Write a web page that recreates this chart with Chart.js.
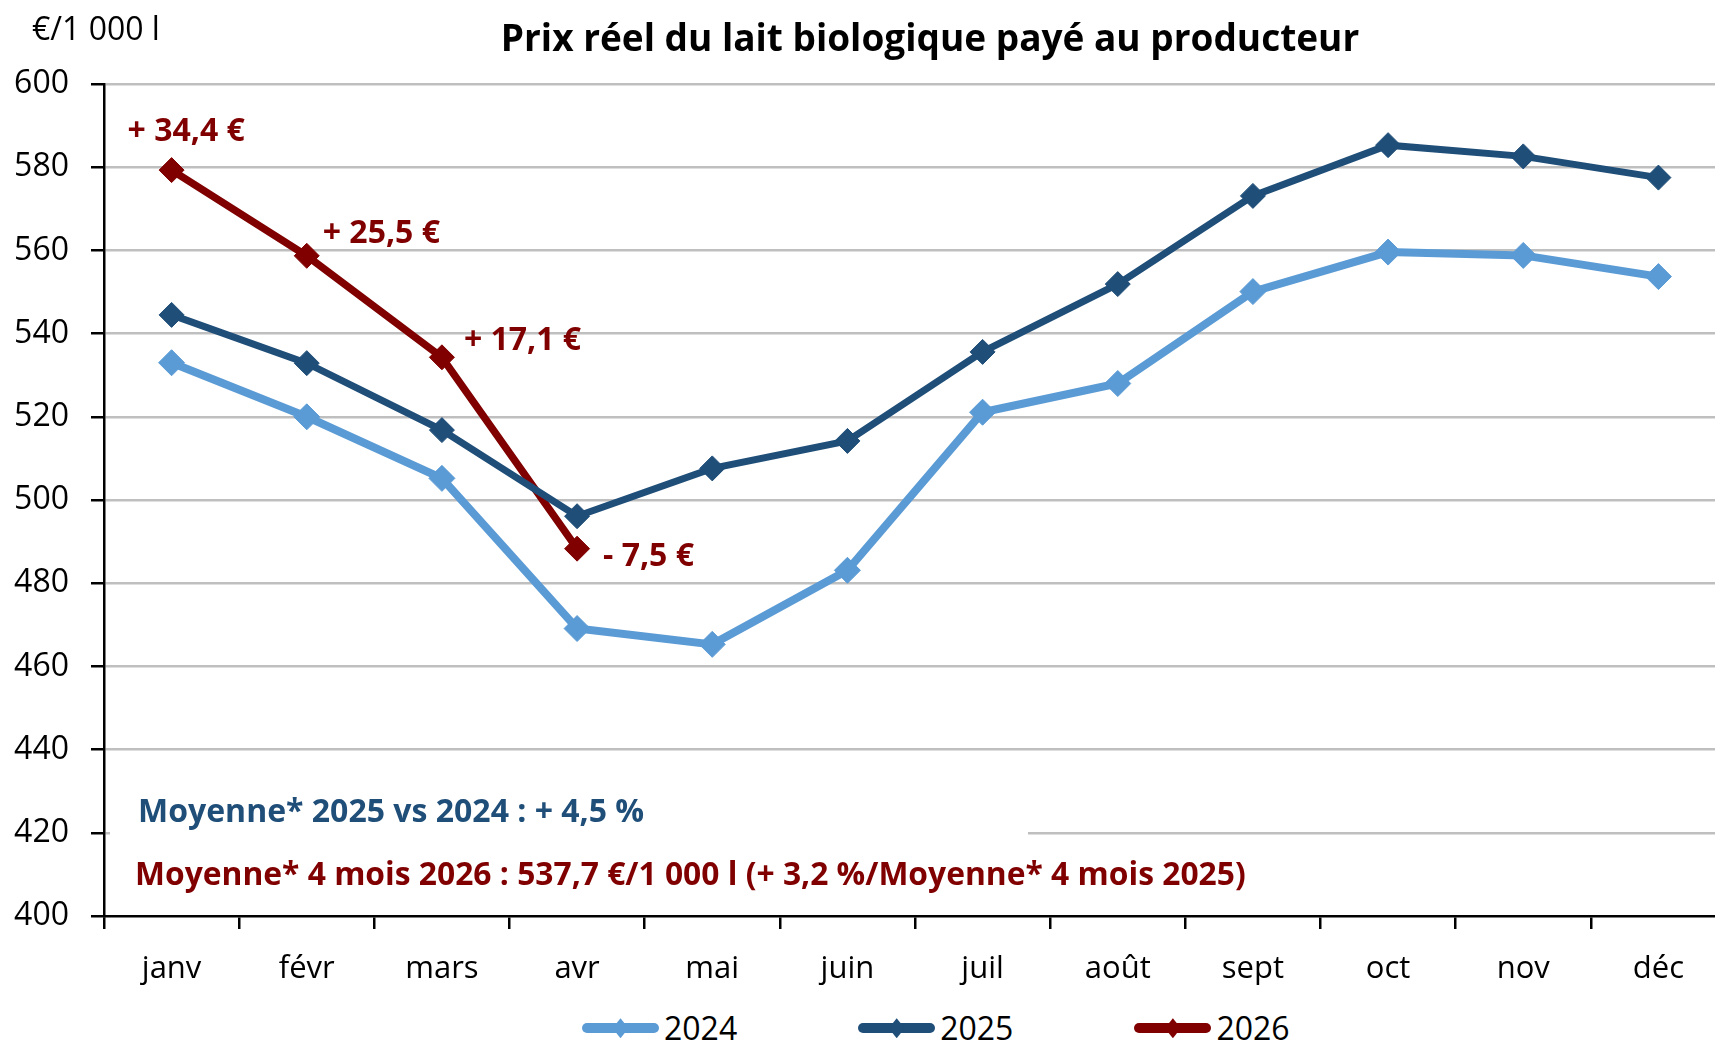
<!DOCTYPE html>
<html>
<head>
  <meta charset="UTF-8">
  <title>Prix réel du lait biologique payé au producteur</title>
  <script src="https://cdn.jsdelivr.net/npm/chart.js"></script>
  <style>
    body {
      margin: 0;
      background: #fff;
      overflow: hidden;
      font-family: 'Open Sans', sans-serif;
    }
    #chartContainer {
      position: relative;
      width: 1860px;
      height: 1000px;
    }
    #unit {
      position: absolute;
      left: 32px;
      top: 6px;
      font-size: 32px;
      color: #000;
    }
    #legend {
      position: absolute;
      left: 582px;
      top: 1009px;
      display: flex;
      gap: 121px;
      font-size: 32px;
      line-height: 1.2;
    }
    .item { display: flex; align-items: center; gap: 5px; }
    .swatch { position: relative; width: 77px; height: 22px; }
    .swatch .line { position: absolute; left: 0; right: 0; top: 6px; height: 10px; border-radius: 5px; }
    .swatch .dot {
      position: absolute; left: 30.5px; top: 1px; width: 16px; height: 20px;
      clip-path: polygon(50% 0, 100% 50%, 50% 100%, 0 50%);
    }
  </style>
</head>
<body>
  <div id="chartContainer">
    <canvas id="milkChart"></canvas>
    <div id="unit">€/1 000 l</div>
  </div>
  <div id="legend"></div>
  <script>
    const months = ['janv', 'févr', 'mars', 'avr', 'mai', 'juin', 'juil', 'août', 'sept', 'oct', 'nov', 'déc'];
    const prix2024 = [533, 520, 505.2, 469.1, 465.3, 483.1, 521.1, 528, 550.1, 559.6, 558.8, 553.7];
    const prix2025 = [544.5, 532.9, 516.8, 496.1, 507.6, 514.2, 535.6, 551.9, 573.1, 585.3, 582.6, 577.5];
    const prix2026 = [579.3, 558.7, 534.3, 488.3];
    const ecarts2026 = ['+ 34,4 €', '+ 25,5 €', '+ 17,1 €', '- 7,5 €'];
    const moyenneTextes = [
      'Moyenne* 2025 vs 2024 : + 4,5 %',
      'Moyenne* 4 mois 2026 : 537,7 €/1 000 l (+ 3,2 %/Moyenne* 4 mois 2025)'
    ];
    const yMin = 400;
    const yMax = 600;
    const yStep = 20;

    const BLUE_LIGHT = '#5B9BD5';
    const BLUE_DARK = '#1F4E79';
    const RED = '#800000';
    const FONT = "'Open Sans', sans-serif";

    Chart.defaults.font.family = FONT;
    Chart.defaults.color = '#000';

    // where the gap labels sit next to the 2026 points (px)
    const ecartOffsets = [[-44, -38], [16, -22], [22, -16], [26, 8]];

    const notesPlugin = {
      id: 'notes',
      beforeDatasetsDraw(chart) {
        // white box hiding the grid behind the averages
        const { ctx, chartArea, scales: { y } } = chart;
        const top = y.getPixelForValue(435.5);
        const bottom = y.getPixelForValue(402);
        ctx.save();
        ctx.fillStyle = '#fff';
        ctx.fillRect(chartArea.left + 6, top, 918, bottom - top);
        ctx.restore();
      },
      afterDatasetsDraw(chart) {
        const { ctx, chartArea, scales: { y } } = chart;
        ctx.save();
        ctx.textAlign = 'left';
        ctx.textBaseline = 'middle';
        ctx.font = 'bold 32px ' + FONT;

        ctx.fillStyle = BLUE_DARK;
        ctx.fillText(moyenneTextes[0], chartArea.left + 34, y.getPixelForValue(424.7));
        ctx.fillStyle = RED;
        ctx.font = 'bold 31.8px ' + FONT;
        ctx.fillText(moyenneTextes[1], chartArea.left + 31, y.getPixelForValue(409.6));

        ctx.font = 'bold 32px ' + FONT;
        const meta = chart.getDatasetMeta(2);
        ecarts2026.forEach((txt, i) => {
          const pt = meta.data[i];
          ctx.fillText(txt, pt.x + ecartOffsets[i][0], pt.y + ecartOffsets[i][1]);
        });
        ctx.restore();
      }
    };

    const ctx = document.getElementById('milkChart').getContext('2d');
    const chart = new Chart(ctx, {
      type: 'line',
      data: {
        labels: months,
        datasets: [
          {
            label: '2024', data: prix2024,
            borderColor: BLUE_LIGHT, backgroundColor: BLUE_LIGHT,
            borderWidth: 8, pointStyle: 'rectRot', pointRadius: 13, pointBorderWidth: 1
          },
          {
            label: '2025', data: prix2025,
            borderColor: BLUE_DARK, backgroundColor: BLUE_DARK,
            borderWidth: 7, pointStyle: 'rectRot', pointRadius: 12.5, pointBorderWidth: 1
          },
          {
            label: '2026', data: prix2026,
            borderColor: RED, backgroundColor: RED,
            borderWidth: 7.5, pointStyle: 'rectRot', pointRadius: 12.5, pointBorderWidth: 1
          }
        ]
      },
      options: {
        responsive: true,
        maintainAspectRatio: false,
        animation: false,
        layout: { padding: { left: 10, right: 10, top: 0, bottom: 0 } },
        plugins: {
          legend: { display: false },
          tooltip: { enabled: false },
          title: {
            display: true,
            text: 'Prix réel du lait biologique payé au producteur',
            font: { size: 37, weight: 'bold' },
            color: '#000',
            padding: { top: 18, bottom: 21.6 }
          }
        },
        scales: {
          x: {
            offset: true,
            grid: {
              display: true, offset: true, drawOnChartArea: false,
              tickLength: 13, lineWidth: 2.5, color: '#000'
            },
            border: { color: '#000', width: 2.5 },
            ticks: { font: { size: 31 }, padding: 22, maxRotation: 0 },
            afterFit: s => { s.height = 84; }
          },
          y: {
            min: yMin, max: yMax,
            ticks: { stepSize: yStep, font: { size: 32 }, padding: 22 },
            grid: {
              color: c => c.tick && c.tick.value === yMin ? 'rgba(0,0,0,0)' : '#BFBFBF',
              lineWidth: 2.5, tickColor: '#000', tickLength: 13
            },
            border: { color: '#000', width: 2.5 },
            afterFit: s => { s.width = 94; }
          },
          // empty axis on the right keeps the title centred like the original
          yRight: {
            type: 'linear', axis: 'y', position: 'right',
            grid: { display: false }, border: { display: false }, ticks: { display: false },
            afterFit: s => { s.width = 124; }
          }
        }
      },
      plugins: [notesPlugin]
    });

    // html legend: line + diamond like the original
    const legendEl = document.getElementById('legend');
    chart.data.datasets.forEach(ds => {
      const item = document.createElement('div');
      item.className = 'item';
      item.innerHTML = '<div class="swatch"><div class="line" style="background:' + ds.borderColor +
        '"></div><div class="dot" style="background:' + ds.borderColor + '"></div></div><span>' + ds.label + '</span>';
      legendEl.appendChild(item);
    });
  </script>
</body>
</html>
